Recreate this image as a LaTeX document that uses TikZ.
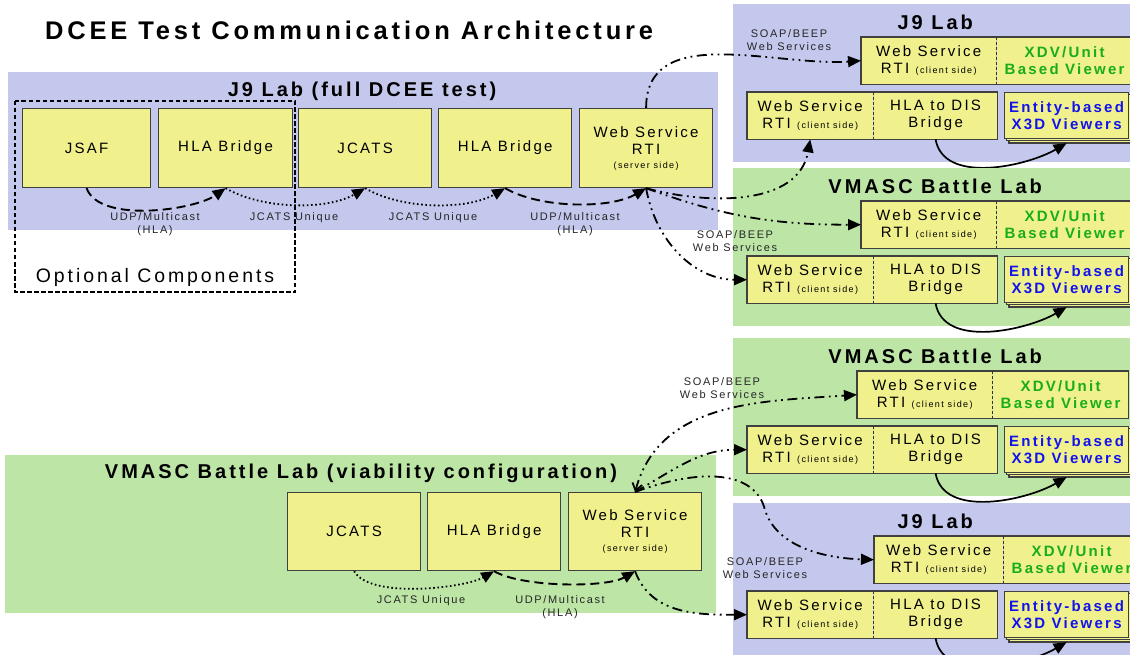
\documentclass[tikz,border=0pt]{standalone}
\usepackage{fontspec}
\setmainfont{Liberation Sans}[LetterSpace=15]
\usepackage{xcolor}
\definecolor{labBlue}{HTML}{C4C8EC}
\definecolor{labGreen}{HTML}{BCE5A6}
\definecolor{compYellow}{HTML}{F0F08C}
\definecolor{xdvGreen}{HTML}{17AE17}
\definecolor{entBlue}{HTML}{1212EE}
\usepackage{tikz}
\usetikzlibrary{positioning,arrows.meta,shadows}
\newcommand{\boxfont}{\fontsize{15}{17}\selectfont}
\newcommand{\sidefont}{\fontsize{9}{11}\selectfont}
\newcommand{\labfont}{\fontsize{20}{22}\selectfont\bfseries}
\newcommand{\linkfont}{\fontsize{11}{13}\selectfont}

\begin{document}
\begin{tikzpicture}[x=1pt, y=1pt,
    every node/.style={inner sep=0pt},
    comp/.style={draw=black!75, fill=compYellow, line width=1.2pt,
                 minimum height=79, align=center, font=\boxfont, anchor=north west},
    half/.style={fill=compYellow, minimum height=47, align=center,
                 font=\boxfont, anchor=north west},
    viewer/.style={draw=black!75, fill=compYellow, line width=1.2pt,
                   minimum width=124, minimum height=46, align=center,
                   font=\boxfont\bfseries, anchor=north west, text=entBlue,
                   double copy shadow={shadow xshift=2.2pt, shadow yshift=-2.2pt}},
    boxline/.style={draw=black!75, line width=1.2pt},
    divider/.style={draw=black!80, line width=0.9pt, dash pattern=on 3pt off 2pt},
    labtitle/.style={font=\labfont},
    link/.style={font=\linkfont, align=center, text=black!85},
    udp/.style={line width=1.9pt, dash pattern=on 9pt off 5pt,
                -{Triangle[length=13pt,width=11pt]}},
    uniq/.style={line width=1.8pt, dash pattern=on 1.6pt off 2.6pt,
                 -{Triangle[length=13pt,width=11pt]}},
    soap/.style={line width=1.8pt,
                 dash pattern=on 10pt off 4.5pt on 1.8pt off 4.5pt on 1.8pt off 4.5pt,
                 -{Triangle[length=13pt,width=11pt]}},
    feed/.style={line width=1.7pt, -{Triangle[length=13pt,width=11pt]}}]
  \useasboundingbox (0,0) rectangle (1130,-655);
  \fill[white] (0,0) rectangle (1130,-655);

  % title
  \node[anchor=base west, font=\fontsize{25.5}{28}\selectfont\bfseries] (title) at (45,-40)
    {DCEE Test Communication Architecture};

  % J9 Lab, full test
  \fill[labBlue] (8,-72) rectangle (718,-230);
  \node[labtitle] (j9full) at (362,-91) {J9 Lab (full DCEE test)};
  \draw[line width=1.4pt, dash pattern=on 4.5pt off 2.5pt] (15,-101) rectangle (295,-292);
  \node[font=\fontsize{19.5}{22}\selectfont] (optional) at (155,-277) {Optional Components};
  \node[comp, minimum width=128] (jsaf) at (22,-108) {JSAF};
  \node[comp, minimum width=134] (hlaA) at (158,-108) {HLA Bridge};
  \node[comp, minimum width=133] (jcatsA) at (298,-108) {JCATS};
  \node[comp, minimum width=133] (hlaB) at (438,-108) {HLA Bridge};
  \node[comp, minimum width=133] (rtiA) at (579,-108)
    {Web Service\\RTI\\[-3pt]{\sidefont(server side)}};

  % VMASC Battle Lab, viability
  \fill[labGreen] (5,-455) rectangle (716,-613);
  \node[labtitle] (vmviab) at (361,-473) {VMASC Battle Lab (viability configuration)};
  \node[comp, minimum width=133, minimum height=78] (jcatsB) at (287,-492) {JCATS};
  \node[comp, minimum width=133, minimum height=78] (hlaC) at (427,-492) {HLA Bridge};
  \node[comp, minimum width=133, minimum height=78] (rtiB) at (568,-492)
    {Web Service\\RTI\\[-3pt]{\sidefont(server side)}};

  % client labs on the right
  \foreach \p/\ty/\lc/\ttl/\cx/\cw in {a/4/labBlue/J9 Lab/861/135,
      b/168/labGreen/VMASC Battle Lab/861/135,
      c/338/labGreen/VMASC Battle Lab/857/135,
      d/503/labBlue/J9 Lab/874/129}{
    \node[fill=\lc, minimum width=404, minimum height=158, anchor=north west]
      (lab\p) at (733,-\ty) {};
    \node[labtitle] (ttl\p) at ([yshift=-18pt]lab\p.north) {\ttl};
    \node[half, minimum width=\cw] (wsa\p) at (\cx,-\ty-33)
      {Web Service\\RTI {\sidefont(client side)}};
    \node[half, minimum width=136, font=\boxfont\bfseries, text=xdvGreen]
      (xdv\p) at (wsa\p.north east) {XDV/Unit\\Based Viewer};
    \draw[boxline] (wsa\p.north west) rectangle (xdv\p.south east);
    \draw[divider] (wsa\p.north east) -- (wsa\p.south east);
    \node[half, minimum width=126] (wsb\p) at (747,-\ty-88)
      {Web Service\\RTI {\sidefont(client side)}};
    \node[half, minimum width=124] (dis\p) at (wsb\p.north east) {HLA to DIS\\Bridge};
    \draw[boxline] (wsb\p.north west) rectangle (dis\p.south east);
    \draw[divider] (wsb\p.north east) -- (wsb\p.south east);
    \node[viewer] (ent\p) at (1004,-\ty-88) {Entity-based\\X3D Viewers};
    \draw[feed] (dis\p.south) to[out=-80,in=-150,looseness=0.9] ([yshift=-4pt]ent\p.south);
  }

  % links inside the full test
  \draw[udp] (jsaf.south) to[out=-70,in=-145,looseness=0.7] (hlaA.south);
  \draw[uniq] (hlaA.south) to[out=-30,in=-150,looseness=0.8] (jcatsA.south);
  \draw[uniq] (jcatsA.south) to[out=-30,in=-150,looseness=0.8] (hlaB.south);
  \draw[udp] (hlaB.south) to[out=-30,in=-150,looseness=0.75] (rtiA.south);
  \node[link] (udpA) at (155,-224.5) {UDP/Multicast\\(HLA)};
  \node[link] (uniqA) at (294,-218) {JCATS Unique};
  \node[link] (uniqB) at (433,-218) {JCATS Unique};
  \node[link] (udpB) at (575,-224.5) {UDP/Multicast\\(HLA)};

  % web services from the full test
  \draw[soap] (rtiA.north) to[out=90,in=184] (wsaa.west);
  \draw[soap] (rtiA.south) to[out=-20,in=180] (wsab.west);
  \draw[soap] (rtiA.south) to[out=-15,in=-100] (wsba.south);
  \draw[soap] (rtiA.south) to[out=-80,in=180] (wsbb.west);
  \node[link] (soapA) at (789,-40) {SOAP/BEEP\\Web Services};
  \node[link] (soapB) at (735,-241.5) {SOAP/BEEP\\Web Services};

  % links inside the viability setup
  \draw[uniq] (jcatsB.south) to[out=-60,in=-150,looseness=0.6] (hlaC.south);
  \draw[udp] (hlaC.south) to[out=-30,in=-150,looseness=0.6] (rtiB.south);
  \node[link] (uniqC) at (421,-601) {JCATS Unique};
  \node[link] (udpC) at (560,-607.5) {UDP/Multicast\\(HLA)};

  % web services from the viability setup
  \draw[soap, {Straight Barb[length=7pt,width=10pt]}-{Triangle[length=13pt,width=11pt]}]
    (rtiB.north) to[out=75,in=184] (wsac.west);
  \draw[soap] (rtiB.north) to[out=30,in=180] (wsbc.west);
  \draw[soap] (rtiB.north) .. controls (700,-468) and (755,-470) .. (765,-510)
    .. controls (776,-545) and (820,-558) .. (wsad.west);
  \draw[soap] (rtiB.south) to[out=-70,in=180] (wsbd.west);
  \node[link] (soapC) at (722,-388.5) {SOAP/BEEP\\Web Services};
  \node[link] (soapD) at (765,-568.5) {SOAP/BEEP\\Web Services};
\end{tikzpicture}
\end{document}
